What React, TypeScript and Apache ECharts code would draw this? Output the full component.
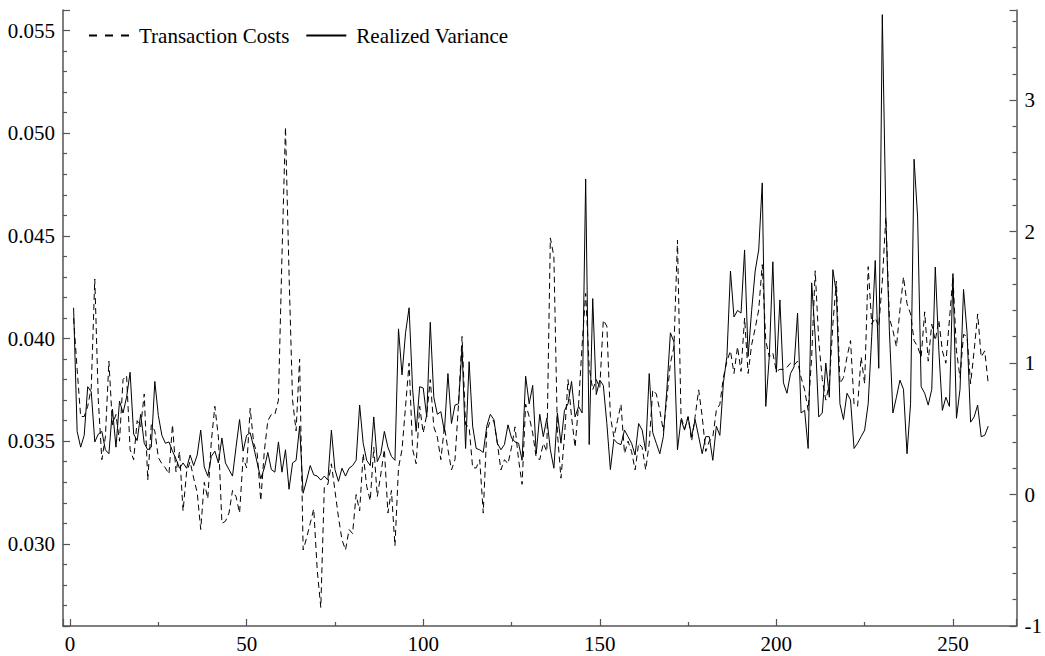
import React, { useEffect, useRef } from "react";
import * as echarts from "echarts";

// Transaction Costs (left axis), observations 1..260
const transactionCosts: number[] = [
  0.0410, 0.0385, 0.0362, 0.0362, 0.0367, 0.0376, 0.0429, 0.0370, 0.0341, 0.0352,
  0.0389, 0.0358, 0.0363, 0.0350, 0.0380, 0.0382, 0.0346, 0.0341, 0.0360, 0.0357,
  0.0373, 0.0331, 0.0358, 0.0355, 0.0342, 0.0339, 0.0337, 0.0334, 0.0358, 0.0335,
  0.0345, 0.0316, 0.0335, 0.0340, 0.0332, 0.0325, 0.0307, 0.0330, 0.0322, 0.0350,
  0.0367, 0.0352, 0.0310, 0.0311, 0.0315, 0.0326, 0.0323, 0.0315, 0.0342, 0.0337,
  0.0366, 0.0349, 0.0344, 0.0321, 0.0345, 0.0360, 0.0363, 0.0363, 0.0370, 0.0440,
  0.0503, 0.0432, 0.0370, 0.0355, 0.0390, 0.0297, 0.0303, 0.0310, 0.0317, 0.0287,
  0.0269, 0.0328, 0.0329, 0.0339, 0.0326, 0.0313, 0.0302, 0.0297, 0.0307, 0.0305,
  0.0324, 0.0316, 0.0344, 0.0328, 0.0321, 0.0347, 0.0323, 0.0334, 0.0346, 0.0315,
  0.0326, 0.0299, 0.0337, 0.0346, 0.0367, 0.0388, 0.0346, 0.0339, 0.0367, 0.0354,
  0.0363, 0.0380, 0.0357, 0.0352, 0.0341, 0.0357, 0.0346, 0.0336, 0.0341, 0.0368,
  0.0401, 0.0358, 0.0357, 0.0337, 0.0337, 0.0341, 0.0315, 0.0355, 0.0360, 0.0360,
  0.0349, 0.0336, 0.0341, 0.0339, 0.0347, 0.0357, 0.0341, 0.0329, 0.0368, 0.0362,
  0.0354, 0.0342, 0.0341, 0.0349, 0.0345, 0.0449, 0.0440, 0.0354, 0.0332, 0.0352,
  0.0380, 0.0362, 0.0347, 0.0368, 0.0397, 0.0422, 0.0386, 0.0375, 0.0380, 0.0376,
  0.0409, 0.0406, 0.0362, 0.0352, 0.0360, 0.0368, 0.0344, 0.0350, 0.0345, 0.0336,
  0.0349, 0.0347, 0.0336, 0.0349, 0.0375, 0.0373, 0.0365, 0.0355, 0.0371, 0.0388,
  0.0396, 0.0448, 0.0362, 0.0356, 0.0362, 0.0350, 0.0362, 0.0375, 0.0362, 0.0345,
  0.0350, 0.0352, 0.0365, 0.0368, 0.0381, 0.0389, 0.0394, 0.0383, 0.0396, 0.0384,
  0.0410, 0.0383, 0.0397, 0.0405, 0.0414, 0.0436, 0.0399, 0.0391, 0.0393, 0.0384,
  0.0385, 0.0385, 0.0386, 0.0388, 0.0387, 0.0389, 0.0381, 0.0375, 0.0365, 0.0391,
  0.0433, 0.0399, 0.0380, 0.0370, 0.0378, 0.0407, 0.0428, 0.0378, 0.0381, 0.0391,
  0.0399, 0.0368, 0.0367, 0.0391, 0.0378, 0.0435, 0.0407, 0.0410, 0.0406, 0.0428,
  0.0459, 0.0410, 0.0404, 0.0396, 0.0414, 0.0430, 0.0417, 0.0412, 0.0399, 0.0396,
  0.0391, 0.0413, 0.0389, 0.0407, 0.0399, 0.0409, 0.0394, 0.0388, 0.0409, 0.0430,
  0.0394, 0.0381, 0.0402, 0.0401, 0.0378, 0.0394, 0.0412, 0.0391, 0.0394, 0.0378,
];

// Realized Variance (right axis), observations 1..260
const realizedVariance: number[] = [
  1.42, 0.48, 0.36, 0.45, 0.82, 0.78, 0.40, 0.46, 0.48, 0.34,
  0.31, 0.65, 0.36, 0.71, 0.62, 0.74, 0.93, 0.46, 0.41, 0.61,
  0.39, 0.34, 0.36, 0.86, 0.60, 0.45, 0.39, 0.40, 0.33, 0.27,
  0.20, 0.24, 0.20, 0.30, 0.22, 0.30, 0.49, 0.21, 0.14, 0.29,
  0.33, 0.24, 0.43, 0.24, 0.19, 0.14, 0.36, 0.57, 0.33, 0.45,
  0.47, 0.36, 0.24, 0.12, 0.20, 0.32, 0.19, 0.17, 0.40, 0.17,
  0.34, 0.04, 0.24, 0.26, 0.52, 0.01, 0.11, 0.22, 0.15, 0.14,
  0.11, 0.14, 0.11, 0.49, 0.19, 0.10, 0.20, 0.14, 0.20, 0.22,
  0.26, 0.68, 0.39, 0.26, 0.22, 0.59, 0.25, 0.31, 0.48, 0.36,
  0.29, 0.26, 1.26, 0.91, 1.23, 1.42, 0.80, 0.48, 0.82, 0.81,
  0.59, 1.31, 0.74, 0.61, 0.63, 0.48, 0.92, 0.54, 0.68, 0.69,
  1.12, 0.35, 1.01, 0.52, 0.35, 0.34, 0.32, 0.52, 0.61, 0.57,
  0.39, 0.34, 0.38, 0.53, 0.43, 0.40, 0.39, 0.26, 0.90, 0.69,
  0.83, 0.31, 0.61, 0.44, 0.58, 0.34, 0.20, 0.62, 0.39, 0.64,
  0.69, 0.86, 0.59, 0.67, 0.62, 2.40, 0.38, 1.49, 0.76, 0.87,
  0.83, 0.54, 0.19, 0.42, 0.39, 0.38, 0.49, 0.44, 0.39, 0.30,
  0.54, 0.49, 0.33, 0.92, 0.47, 0.39, 0.31, 0.44, 0.80, 1.23,
  1.16, 0.34, 0.57, 0.49, 0.59, 0.44, 0.57, 0.44, 0.31, 0.44,
  0.44, 0.26, 0.52, 0.45, 0.85, 1.05, 1.70, 1.35, 1.40, 1.38,
  1.86, 1.05, 1.40, 1.70, 1.86, 2.37, 0.67, 1.05, 1.77, 0.93,
  1.48, 0.85, 0.77, 0.92, 0.97, 1.38, 0.62, 0.64, 0.35, 1.61,
  1.20, 0.59, 0.62, 1.00, 0.74, 1.71, 1.53, 0.69, 0.57, 0.77,
  0.72, 0.35, 0.39, 0.44, 0.49, 0.69, 1.20, 1.78, 0.96, 3.65,
  2.11, 1.25, 0.62, 0.74, 0.87, 0.80, 0.31, 0.69, 2.55, 2.11,
  0.82, 0.77, 0.68, 0.80, 1.73, 1.10, 0.64, 0.74, 0.67, 1.68,
  0.58, 0.80, 1.56, 1.23, 0.55, 0.59, 0.68, 0.44, 0.45, 0.52,
];

const seriesNames = ["Transaction Costs", "Realized Variance"];

const FONT = "Liberation Serif";
const AXIS_COLOR = "#555";

export default function App() {
  const ref = useRef<HTMLDivElement>(null);

  useEffect(() => {
    if (!ref.current) return;
    const chart = echarts.init(ref.current, undefined, { renderer: "svg" });

    const axisCommon = {
      axisLine: { show: true, onZero: false, lineStyle: { color: AXIS_COLOR, width: 1.5 } },
      axisTick: { show: true, inside: true, length: 7, lineStyle: { color: AXIS_COLOR, width: 1.2 } },
      minorTick: { show: true, length: 4, lineStyle: { color: AXIS_COLOR, width: 1.2 } },
      splitLine: { show: false },
      minorSplitLine: { show: false },
    };

    const labelCommon = {
      fontFamily: FONT,
      fontSize: 21,
      color: "#000",
    };

    chart.setOption({
      animation: false,
      backgroundColor: "#fff",
      textStyle: { fontFamily: FONT },
      grid: { left: 63, right: 26, top: 10, bottom: 30, containLabel: false },
      legend: {
        show: true,
        left: 88,
        top: 25,
        padding: 0,
        itemWidth: 40,
        itemHeight: 14,
        itemGap: 16,
        data: [
          { name: seriesNames[0], lineStyle: { type: [8, 8] } },
          { name: seriesNames[1] },
        ],
        itemStyle: { color: "rgba(0,0,0,0)", borderWidth: 0, opacity: 0 },
        textStyle: { ...labelCommon, padding: [0, 0, 0, 5] },
      },
      xAxis: {
        type: "value",
        min: -2,
        max: 268,
        ...axisCommon,
        minorTick: { ...axisCommon.minorTick, splitNumber: 2 },
        axisLabel: {
          ...labelCommon,
          margin: 7,
          showMinLabel: false,
          showMaxLabel: false,
        },
      },
      yAxis: [
        {
          type: "value",
          position: "left",
          min: 0.026,
          max: 0.056,
          ...axisCommon,
          minorTick: { ...axisCommon.minorTick, splitNumber: 5 },
          axisLabel: {
            ...labelCommon,
            margin: 8,
            showMinLabel: false,
            showMaxLabel: false,
            formatter: (v: number) => v.toFixed(3),
          },
        },
        {
          type: "value",
          position: "right",
          min: -1,
          max: 3.685,
          interval: 1,
          ...axisCommon,
          minorTick: { ...axisCommon.minorTick, splitNumber: 5 },
          axisLabel: {
            ...labelCommon,
            margin: 8,
            showMinLabel: true,
            showMaxLabel: false,
            formatter: (v: number) => (Math.abs(v - Math.round(v)) < 1e-9 ? String(Math.round(v)) : ""),
          },
        },
      ],
      series: [
        {
          name: seriesNames[0],
          type: "line",
          yAxisIndex: 0,
          symbol: "none",
          data: transactionCosts.map((v, i) => [i + 1, v]),
          lineStyle: { color: "#000", width: 1, type: [6, 4] },
          itemStyle: { color: "#000" },
        },
        {
          name: seriesNames[1],
          type: "line",
          yAxisIndex: 1,
          symbol: "none",
          data: realizedVariance.map((v, i) => [i + 1, v]),
          lineStyle: { color: "#000", width: 1, type: "solid" },
          itemStyle: { color: "#000" },
        },
      ],
    });

    return () => chart.dispose();
  }, []);

  return (
    <div
      ref={ref}
      style={{ position: "fixed", left: 0, top: 0, width: 1045, height: 656, background: "#fff" }}
    />
  );
}
